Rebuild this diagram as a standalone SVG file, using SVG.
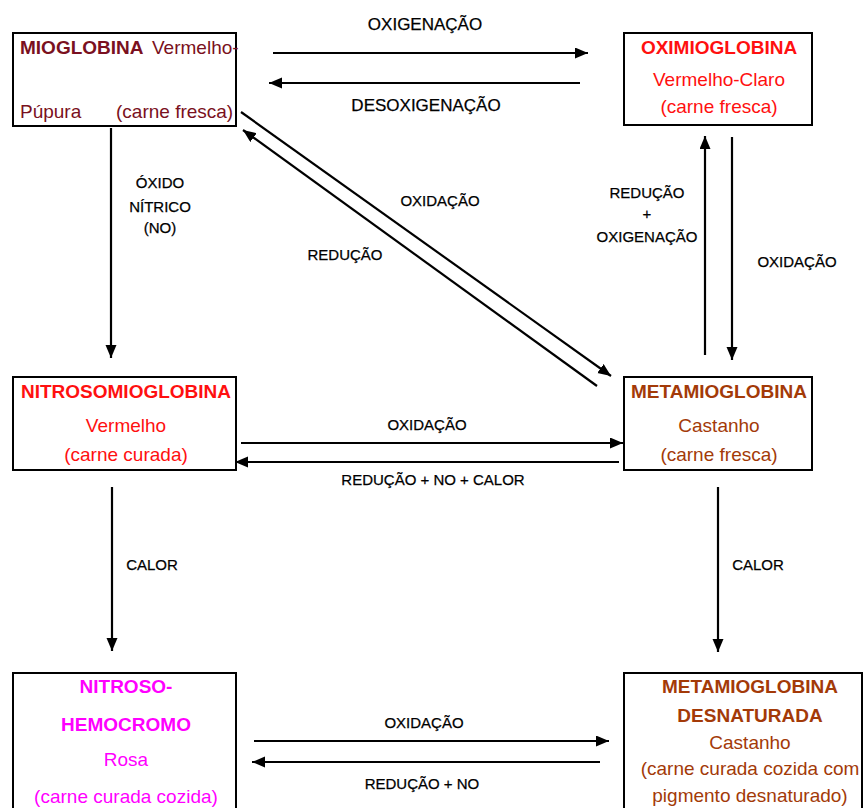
<svg xmlns="http://www.w3.org/2000/svg" width="866" height="808" viewBox="0 0 866 808">
<defs>
<marker id="ah" markerUnits="userSpaceOnUse" markerWidth="14" markerHeight="12" refX="13" refY="5.5" orient="auto">
<path d="M0,0 L13,5.5 L0,11 z" fill="#000"/>
</marker>
<style>
.box{fill:#fff;stroke:#000;stroke-width:2}
.t{font-family:"Liberation Sans",Arial,sans-serif;font-size:19px}
.b{font-weight:bold}
.c{text-anchor:middle}
.lbl{font-family:"Liberation Sans",Arial,sans-serif;font-size:15px;fill:#000;stroke:#000;stroke-width:0.25;text-anchor:middle}
.big{font-size:17px}
.ar{stroke:#000;stroke-width:2.2;fill:none;marker-end:url(#ah)}
.mio{fill:#7a1020}
.red{fill:#ff1010}
.brn{fill:#a33a08}
.mag{fill:#ff00ff}
</style>
</defs>
<rect width="866" height="808" fill="#fff"/>

<g id="mioglobina">
<rect class="box" x="13" y="33" width="223" height="93"/>
<text class="t mio" x="20" y="54"><tspan class="b">MIOGLOBINA</tspan><tspan x="152">Vermelho-</tspan></text>
<text class="t mio" x="20" y="118">Púpura</text>
<text class="t mio" x="116" y="118">(carne fresca)</text>
</g>

<g id="oximioglobina">
<rect class="box" x="624" y="33" width="188" height="92"/>
<text class="t b c red" x="719" y="54">OXIMIOGLOBINA</text>
<text class="t c red" x="719" y="86">Vermelho-Claro</text>
<text class="t c red" x="719" y="113">(carne fresca)</text>
</g>

<g id="nitrosomioglobina">
<rect class="box" x="13" y="377" width="223" height="93"/>
<text class="t b c red" x="126" y="398">NITROSOMIOGLOBINA</text>
<text class="t c red" x="126" y="432">Vermelho</text>
<text class="t c red" x="126" y="461">(carne curada)</text>
</g>

<g id="metamioglobina">
<rect class="box" x="624" y="377" width="188" height="93"/>
<text class="t b c brn" x="719" y="398">METAMIOGLOBINA</text>
<text class="t c brn" x="719" y="432">Castanho</text>
<text class="t c brn" x="719" y="461">(carne fresca)</text>
</g>

<g id="nitrosohemocromo">
<rect class="box" x="13" y="673" width="223" height="140"/>
<text class="t b c mag" x="126" y="693">NITROSO-</text>
<text class="t b c mag" x="126" y="731">HEMOCROMO</text>
<text class="t c mag" x="126" y="766">Rosa</text>
<text class="t c mag" x="126" y="803">(carne curada cozida)</text>
</g>

<g id="metamioglobina-desnaturada">
<rect class="box" x="624" y="673" width="238" height="140"/>
<text class="t b c brn" x="750" y="693">METAMIOGLOBINA</text>
<text class="t b c brn" x="750" y="722">DESNATURADA</text>
<text class="t c brn" x="750" y="749">Castanho</text>
<text class="t c brn" x="750" y="775">(carne curada cozida com</text>
<text class="t c brn" x="750" y="802">pigmento desnaturado)</text>
</g>

<g id="connectors">
<line class="ar" x1="273" y1="53" x2="588" y2="53"/>
<line class="ar" x1="580" y1="83" x2="269" y2="83"/>
<line class="ar" x1="241" y1="112" x2="611" y2="376"/>
<line class="ar" x1="597" y1="386" x2="243" y2="130"/>
<line class="ar" x1="111" y1="128" x2="111" y2="358"/>
<line class="ar" x1="705" y1="355" x2="705" y2="136"/>
<line class="ar" x1="732" y1="137" x2="732" y2="360"/>
<line class="ar" x1="241" y1="443" x2="623" y2="443"/>
<line class="ar" x1="619" y1="462" x2="235" y2="462"/>
<line class="ar" x1="112" y1="487" x2="112" y2="651"/>
<line class="ar" x1="718" y1="487" x2="718" y2="652"/>
<line class="ar" x1="254" y1="741" x2="609" y2="741"/>
<line class="ar" x1="600" y1="762" x2="252" y2="762"/>
</g>

<g id="labels">
<text class="lbl big" x="425" y="30">OXIGENAÇÃO</text>
<text class="lbl big" x="426" y="111">DESOXIGENAÇÃO</text>
<text class="lbl" x="160" y="188">ÓXIDO</text>
<text class="lbl" x="160" y="212">NÍTRICO</text>
<text class="lbl" x="160" y="233">(NO)</text>
<text class="lbl" x="440" y="206">OXIDAÇÃO</text>
<text class="lbl" x="345" y="260">REDUÇÃO</text>
<text class="lbl" x="647" y="198">REDUÇÃO</text>
<text class="lbl" x="647" y="219">+</text>
<text class="lbl" x="647" y="242">OXIGENAÇÃO</text>
<text class="lbl" x="797" y="267">OXIDAÇÃO</text>
<text class="lbl" x="427" y="430">OXIDAÇÃO</text>
<text class="lbl" x="433" y="485">REDUÇÃO + NO + CALOR</text>
<text class="lbl" x="152" y="570">CALOR</text>
<text class="lbl" x="758" y="570">CALOR</text>
<text class="lbl" x="424" y="728">OXIDAÇÃO</text>
<text class="lbl" x="422" y="789">REDUÇÃO + NO</text>
</g>
</svg>
